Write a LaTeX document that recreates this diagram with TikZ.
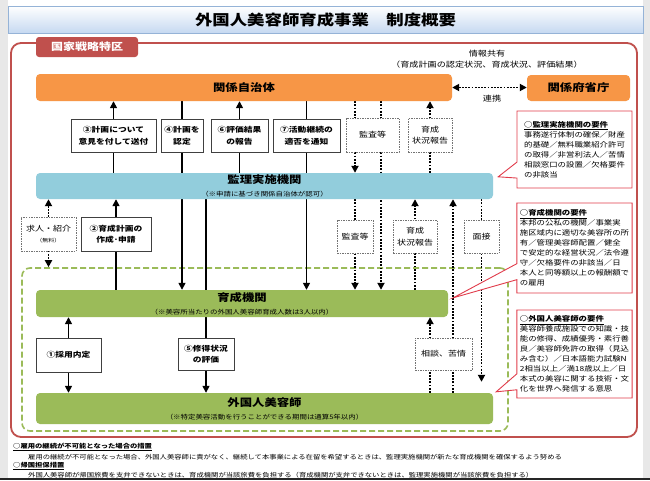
\documentclass[tikz,border=0pt]{standalone}
\usepackage{fontspec}
\setmainfont{Noto Sans CJK JP}[FakeStretch=1.2]
\usepackage{tikz}
\usetikzlibrary{shapes.callouts, arrows.meta, fit, positioning, backgrounds, calc}
\definecolor{JichiOrange}{RGB}{247,150,70}
\definecolor{KanriBlue}{RGB}{146,205,220}
\definecolor{IkuseiGreen}{RGB}{155,187,89}
\definecolor{TokkuRed}{RGB}{192,80,77}
\definecolor{NoteRed}{RGB}{225,60,75}
\definecolor{TitleBlue}{RGB}{198,217,241}
\definecolor{TitleBorder}{RGB}{149,179,215}
\definecolor{PageGray}{RGB}{232,232,232}
\tikzstyle{arrow} = [line width=1.5pt, -{Triangle[length=7pt,width=7pt]}]
\tikzstyle{twoarrow} = [line width=1.5pt, {Triangle[length=7pt,width=7pt]}-{Triangle[length=7pt,width=7pt]}]
\tikzstyle{dotarrow} = [line width=1.8pt, dash pattern=on 1.8pt off 1.4pt, -{Triangle[length=7pt,width=7pt]}]
\tikzstyle{dottwoarrow} = [line width=1.8pt, dash pattern=on 1.8pt off 1.4pt, {Triangle[length=7pt,width=7pt]}-{Triangle[length=7pt,width=7pt]}]
\tikzstyle{orgbox} = [rectangle, rounded corners=4pt, inner sep=0pt, align=center, font=\bfseries\fontsize{10.3}{13}\selectfont]
\tikzstyle{labelbox} = [rectangle, draw=black!75, line width=0.9pt, fill=white, inner sep=0pt, align=center, font=\bfseries\fontsize{7.3}{11.5}\selectfont]
\tikzstyle{dashlabel} = [rectangle, draw=black!55, line width=0.7pt, dash pattern=on 1.5pt off 1pt, fill=white, inner sep=0pt, align=center, font=\fontsize{7.5}{11.5}\selectfont]
\tikzstyle{smalltext} = [inner sep=0pt, font=\fontsize{7.6}{11}\selectfont]
\tikzstyle{note} = [inner sep=0pt, anchor=west, font=\fontsize{6.1}{8}\selectfont]
\tikzset{
  titlebar/.style={
    rectangle,
    draw=TitleBorder,
    top color=white,
    bottom color=TitleBlue,
    minimum width=635,
    minimum height=27,
    font=\bfseries\fontsize{14.5}{16}\selectfont
  },
  tokkutag/.style={
    rectangle,
    rounded corners=3pt,
    fill=TokkuRed,
    text=white,
    minimum width=102,
    minimum height=20,
    font=\bfseries\fontsize{10}{12}\selectfont
  },
  requirement/.style={
    rectangle callout,
    draw=NoteRed,
    line width=0.9pt,
    fill=white,
    callout pointer width=16pt,
    minimum width=115,
    inner sep=3pt,
    align=left,
    font=\fontsize{7}{10}\selectfont
  }
}

\begin{document}
\begin{tikzpicture}[x=1pt, y=-1pt]
      \useasboundingbox (0,0) rectangle (650,480);
      \node (title) [titlebar] at (325.5,19.5) {外国人美容師育成事業　制度概要};
      \node (tokku) [tokkutag] at (87,47) {国家戦略特区};
      \node (joho) [smalltext, align=center] at (487,59.5) {情報共有\\（育成計画の認定状況、育成状況、評価結果）};
      \node (kankei_jichitai) [orgbox, fill=JichiOrange, minimum width=416, minimum height=27] at (244,87.5) {関係自治体};
      \node (kankei_fusho) [orgbox, fill=JichiOrange, minimum width=103, minimum height=26] at (578.5,88) {関係府省庁};
      \node (renkei) [smalltext] at (492,99) {連携};
      \node (keikaku_iken) [labelbox, minimum width=85, minimum height=33] at (113.5,135.5) {③計画について\\意見を付して送付};
      \node (keikaku_nintei) [labelbox, minimum width=42, minimum height=33] at (182,135.5) {④計画を\\認定};
      \node (hyoka_hokoku) [labelbox, minimum width=57, minimum height=33] at (239.5,135.5) {⑥評価結果\\の報告};
      \node (tekihi_tsuchi) [labelbox, minimum width=67, minimum height=33] at (306.5,135.5) {⑦活動継続の\\適否を通知};
      \node (kansa_top) [dashlabel, minimum width=53, minimum height=34] at (372.5,135) {監査等};
      \node (hokoku_top) [dashlabel, minimum width=44, minimum height=34] at (430,135) {育成\\状況報告};
      \node (kanri_kikan) [orgbox, fill=KanriBlue, minimum width=457, minimum height=26] at (264.5,186) {監理実施機関\\{\normalfont\fontsize{6.2}{7}\selectfont （※申請に基づき関係自治体が認可）}};
      \node (kyujin_shokai) [dashlabel, minimum width=55, minimum height=34] at (48.5,234) {求人・紹介\\{\fontsize{5}{6}\selectfont （無料）}};
      \node (keikaku_sakusei) [labelbox, minimum width=70, minimum height=34] at (116,234) {②育成計画の\\作成･申請};
      \node (kansa_mid) [dashlabel, minimum width=36, minimum height=33] at (355,236.5) {監査等};
      \node (hokoku_mid) [dashlabel, minimum width=44, minimum height=33] at (415,236.5) {育成\\状況報告};
      \node (mensetsu) [dashlabel, minimum width=35, minimum height=33] at (481.5,236.5) {面接};
      \node (ikusei_kikan) [orgbox, fill=IkuseiGreen, minimum width=412, minimum height=27] at (242,303.5) {育成機関\\{\normalfont\fontsize{6.2}{7}\selectfont （※美容所当たりの外国人美容師育成人数は3人以内）}};
      \node (saiyo_naitei) [labelbox, minimum width=65, minimum height=34] at (68.5,355) {①採用内定};
      \node (shutoku_hyoka) [labelbox, minimum width=56, minimum height=32] at (206,354) {⑤修得状況\\の評価};
      \node (sodan_kujo) [dashlabel, minimum width=57, minimum height=32] at (443.5,354) {相談、苦情};
      \node (gaikokujin) [orgbox, fill=IkuseiGreen, minimum width=457, minimum height=31] at (264.5,408.5) {外国人美容師\\{\normalfont\fontsize{6.2}{7}\selectfont （※特定美容活動を行うことができる期間は通算5年以内）}};
      \node (req_kanri) [requirement, minimum height=77, callout absolute pointer={($(kanri_kikan.north east)+(5,4)$)}] at (574.5,149.5) {\underline{\textbf{○監理実施機関の要件}}\\事務遂行体制の確保／財産\\的基礎／無料職業紹介許可\\の取得／非営利法人／苦情\\相談窓口の設置／欠格要件\\の非該当};
      \node (req_ikusei) [requirement, minimum height=90, callout absolute pointer={($(ikusei_kikan.north east)+(5,8)$)}] at (574.5,248) {\underline{\textbf{○育成機関の要件}}\\本邦の公私の機関／事業実\\施区域内に適切な美容所の所\\有／管理美容師配置／健全\\で安定的な経営状況／法令遵\\守／欠格要件の非該当／日\\本人と同等額以上の報酬額で\\の雇用};
      \node (req_gaikoku) [requirement, minimum height=88, callout absolute pointer={($(gaikokujin.north east)+(3,-1)$)}] at (574.5,354) {\underline{\textbf{○外国人美容師の要件}}\\美容師養成施設での知識・技\\能の修得、成績優秀・素行善\\良／美容師免許の取得（見込\\み含む）／日本語能力試験N\\2相当以上／満18歳以上／日\\本式の美容に関する技術・文\\化を世界へ発信する意思};
      \node (note_koyo) [note] at (13,447) {\underline{\textbf{○雇用の継続が不可能となった場合の措置}}};
      \node (note_koyo_text) [note] at (28,457) {雇用の継続が不可能となった場合、外国人美容師に責がなく、継続して本事業による在留を希望するときは、監理実施機関が新たな育成機関を確保するよう努める};
      \node (note_kikoku) [note] at (13,466) {\underline{\textbf{○帰国担保措置}}};
      \node (note_kikoku_text) [note] at (28,475) {外国人美容師が帰国旅費を支弁できないときは、育成機関が当該旅費を負担する（育成機関が支弁できないときは、監理実施機関が当該旅費を負担する）};
      \coordinate (kansa_line) at (381,0);
      \coordinate (sodan_line) at (453,0);
      \begin{scope}[on background layer]
      \fill [PageGray] (0,0) rectangle (650,480);
      \fill [white] (8,0) rectangle (643,480);
      \node (tokku_frame) [draw=TokkuRed, line width=1.8pt, rounded corners=10pt, minimum width=626, minimum height=394] at (324,240) {};
      \node (ikusei_group) [draw=IkuseiGreen, line width=1.6pt, dash pattern=on 6pt off 3pt, rounded corners=8pt, minimum width=486, minimum height=163] at (265,349.5) {};
      \draw [dottwoarrow] (kankei_jichitai.east) -- (kankei_jichitai.east -| kankei_fusho.west);
      \draw [arrow] (kanri_kikan.north -| keikaku_iken) -- (kankei_jichitai.south -| keikaku_iken);
      \draw [arrow] (kankei_jichitai.south -| keikaku_nintei) -- (ikusei_kikan.north -| keikaku_nintei);
      \draw [arrow] (kanri_kikan.north -| hyoka_hokoku) -- (kankei_jichitai.south -| hyoka_hokoku);
      \draw [arrow] (kankei_jichitai.south -| tekihi_tsuchi) -- (ikusei_kikan.north -| tekihi_tsuchi);
      \draw [dotarrow] (kankei_jichitai.south -| kansa_mid) -- (kanri_kikan.north -| kansa_mid);
      \draw [dotarrow] (kankei_jichitai.south -| kansa_line) -- (ikusei_kikan.north -| kansa_line);
      \draw [dotarrow] (kanri_kikan.north -| hokoku_top) -- (kankei_jichitai.south -| hokoku_top);
      \draw [dottwoarrow] (kanri_kikan.south -| kyujin_shokai) -- (ikusei_group.north -| kyujin_shokai);
      \draw [arrow] (ikusei_kikan.north -| keikaku_sakusei) -- (kanri_kikan.south -| keikaku_sakusei);
      \draw [arrow] (kanri_kikan.south -| shutoku_hyoka) -- (gaikokujin.north -| shutoku_hyoka);
      \draw [dotarrow] (kanri_kikan.south -| kansa_mid) -- (ikusei_kikan.north -| kansa_mid);
      \draw [dotarrow] (ikusei_kikan.north -| hokoku_mid) -- (kanri_kikan.south -| hokoku_mid);
      \draw [dotarrow] (gaikokujin.north -| sodan_line) -- (kanri_kikan.south -| sodan_line);
      \draw [dotarrow, shorten >=11pt] (kanri_kikan.south -| mensetsu) -- (gaikokujin.north -| mensetsu);
      \draw [dotarrow] (gaikokujin.north -| hokoku_top) -- (ikusei_kikan.south -| hokoku_top);
      \draw [twoarrow] (ikusei_kikan.south -| saiyo_naitei) -- (gaikokujin.north -| saiyo_naitei);
      \draw [line width=1.5pt, black!85] (0,479) -- (650,479);
      \end{scope}
    \end{tikzpicture}
\end{document}
